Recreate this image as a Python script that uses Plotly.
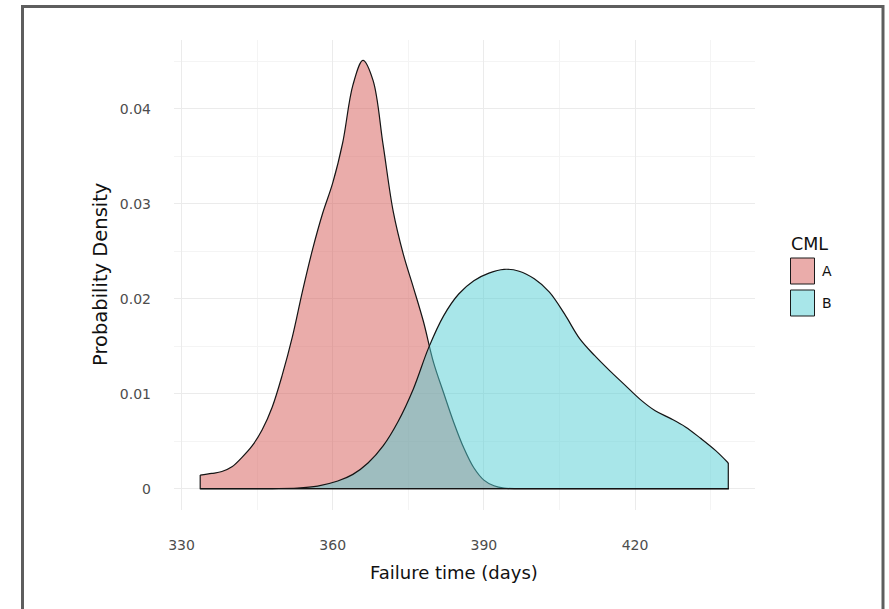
import plotly.graph_objects as go

# ---- data ----
a_x = [333.7, 336, 338, 340, 342, 344, 346, 348, 350, 352, 354, 356, 358, 360, 362, 364,
       366, 368, 370, 372, 374, 376, 378, 380, 382, 384, 386, 388, 390, 392, 394, 397,
       405, 415, 425, 438.6]
a_y = [0.00143, 0.0016, 0.0018, 0.0023, 0.0033, 0.0045, 0.0062, 0.0086, 0.0120, 0.0160,
       0.0208, 0.0252, 0.0290, 0.0322, 0.0365, 0.0425, 0.0451, 0.0430, 0.0362, 0.0292,
       0.0247, 0.0212, 0.0176, 0.0133, 0.0101, 0.0070, 0.0043, 0.0022, 0.0009, 0.0003,
       0.00005, 0, 0, 0, 0, 0]

b_x = [333.7, 343, 348, 353, 357, 361, 364, 367, 370, 373, 376, 379, 382, 385, 388, 391,
       394, 397, 400, 403, 406, 409, 412, 415, 418, 421, 424, 427, 430, 433, 436, 438.5]
b_y = [0, 0, 0.00001, 0.00006, 0.00027, 0.0008, 0.0015, 0.0027, 0.0045, 0.0071, 0.0105,
       0.0148, 0.0182, 0.0205, 0.0219, 0.0227, 0.0231, 0.0229, 0.0221, 0.0207, 0.0184,
       0.0158, 0.0140, 0.0124, 0.0109, 0.0094, 0.0082, 0.0074, 0.0065, 0.0053, 0.0040,
       0.0027]

groups = ["A", "B"]
x_ticks = [330, 360, 390, 420]
y_ticks = [0, 0.01, 0.02, 0.03, 0.04]
y_tick_labels = ["0", "0.01", "0.02", "0.03", "0.04"]

fill_cols = ["rgba(213,89,85,0.5)", "rgba(81,205,211,0.5)"]
key_cols = ["#EAACAA", "#A8E6E9"]
FONT = "DejaVu Sans"
EDGE = "#141414"

fig = go.Figure()
for (xs, ys), col in zip([(a_x, a_y), (b_x, b_y)], fill_cols):
    fig.add_trace(go.Scatter(
        x=xs, y=ys, mode="lines", fill="tozeroy", fillcolor=col,
        line=dict(color=EDGE, width=1.2, shape="spline", smoothing=1.0),
        showlegend=False, hoverinfo="skip"))
    fig.add_trace(go.Scatter(
        x=[xs[0], xs[0], xs[-1], xs[-1]], y=[ys[0], 0, 0, ys[-1]], mode="lines",
        line=dict(color=EDGE, width=1.2), showlegend=False, hoverinfo="skip"))

L, R, T, B = 174, 755, 40, 510
W, H = 889, 609
pw, ph = R - L, B - T

def px(xpix):
    return (xpix - L) / pw

def py(ypix):
    return (B - ypix) / ph

shapes = [dict(type="rect", xref="paper", yref="paper",
               x0=px(22.5), x1=px(883), y0=py(660), y1=py(6.5),
               line=dict(color="#5e5e5e", width=3), fillcolor="rgba(0,0,0,0)", layer="above")]
annotations = [
    dict(text="Failure time (days)", xref="paper", yref="paper", x=px(454), y=py(572),
         showarrow=False, font=dict(family=FONT, size=18, color="#111"),
         xanchor="center", yanchor="middle"),
    dict(text="Probability Density", xref="paper", yref="paper", x=px(100), y=py(275),
         showarrow=False, textangle=-90, font=dict(family=FONT, size=19.5, color="#111"),
         xanchor="center", yanchor="middle"),
    dict(text="CML", xref="paper", yref="paper", x=px(789), y=py(244),
         showarrow=False, font=dict(family=FONT, size=17.5, color="#111"),
         xanchor="left", yanchor="middle"),
]
key_tops = [258, 290]
for g, kc, top in zip(groups, key_cols, key_tops):
    shapes.append(dict(type="rect", xref="paper", yref="paper",
                       x0=px(790.5), x1=px(814.5), y0=py(top + 26), y1=py(top),
                       line=dict(color="#1a1a1a", width=1), fillcolor=kc, layer="above"))
    annotations.append(dict(text=g, xref="paper", yref="paper", x=px(819.5), y=py(top + 13),
                            showarrow=False, font=dict(family=FONT, size=14, color="#111"),
                            xanchor="left", yanchor="middle"))

fig.update_layout(
    width=W, height=H,
    margin=dict(l=L, r=W - R, t=T, b=H - B, pad=0),
    paper_bgcolor="white", plot_bgcolor="white",
    shapes=shapes, annotations=annotations,
    font=dict(family=FONT),
    xaxis=dict(range=[328.5, 443.8], tickmode="array", tickvals=x_ticks,
               ticktext=[str(v) for v in x_ticks], showgrid=True, gridcolor="#EBEBEB",
               gridwidth=1, zeroline=False, showline=False, ticks="",
               ticklabelstandoff=25, tickfont=dict(family=FONT, size=14, color="#4D4D4D"),
               minor=dict(tickmode="array", tickvals=[345, 375, 405, 435], showgrid=True,
                          gridcolor="#F4F4F4", gridwidth=1, ticks="")),
    yaxis=dict(range=[-0.00225, 0.04725], tickmode="array", tickvals=y_ticks,
               ticktext=y_tick_labels, showgrid=True, gridcolor="#EBEBEB", gridwidth=1,
               zeroline=False, showline=False, ticks="", ticklabelstandoff=22,
               tickfont=dict(family=FONT, size=14, color="#4D4D4D"),
               minor=dict(tickmode="array", tickvals=[0.005, 0.015, 0.025, 0.035, 0.045],
                          showgrid=True, gridcolor="#F4F4F4", gridwidth=1, ticks="")),
)

fig.write_html("out.html")
